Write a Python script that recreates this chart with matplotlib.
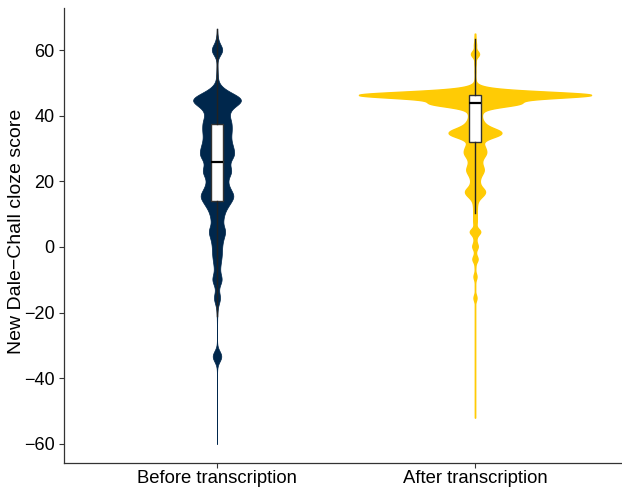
import numpy as np
import matplotlib
matplotlib.use("Agg")
import matplotlib.pyplot as plt

plt.rcParams["font.family"] = ["Liberation Sans", "DejaVu Sans"]

# Categories and colours
groups = ["Before transcription", "After transcription"]
colors = ["#00274C", "#FFCB05"]

# Score distribution before transcription (score value, number of texts)
before_scores = [66.5, 63, 60, 55, 52, 48.5, 46.5, 44.7, 42.8, 40.5, 38, 35.5, 33, 30.5,
                 28, 25.5, 23, 20.5, 18, 15.5, 13, 10.5, 8, 5, 2.5, 0, -2.5, -5, -7.5,
                 -10, -12.5, -15.5, -18, -20.5, -24, -28, -33.3, -38, -43, -48, -53,
                 -57, -60]
before_counts = [0.2, 1, 6.5, 0.5, 0.8, 3, 10, 20, 10, 9, 12, 12, 11, 13,
                 15, 9, 13, 8, 10, 15, 10, 6, 5, 8, 5, 4, 4, 3, 2,
                 5, 1, 3.5, 0.6, 0.3, 0.15, 0.15, 5.5, 0.15, 0.12, 0.12, 0.12,
                 0.12, 0.12]

# Score distribution after transcription (score value, number of texts)
after_scores = [65, 63.5, 61.5, 58.8, 56, 53.5, 51, 49.0, 48.3, 47.6, 46.9, 46.3, 45.7,
                44.9, 43.8, 42.9, 42.0, 41, 40, 39, 38, 37, 36, 35.2, 34.4, 33.5,
                32.5, 31.5, 30.5, 29.5, 28.5, 27.5, 26.5, 25.5, 24.5, 23.5, 22.5, 21.5,
                20.5, 19.5, 18.5, 17.5, 16.7, 15.8, 15, 14, 13, 12, 11, 10, 9, 8, 7,
                4.7, 3, 1.5, 0.1, -2, -3.7, -6, -9, -12, -15.5, -19, -24, -29, -34,
                -39, -44, -48, -52]
after_counts = [0.2, 0.4, 1, 4, 0.6, 0.4, 0.4, 1.5, 4, 8, 18, 85, 14,
                6, 35, 8, 4, 3, 3, 3, 4, 5, 8, 10, 12, 8,
                3.5, 3.5, 4.5, 5, 5.5, 4, 3, 3, 3.5, 4.5, 3.5, 2.5,
                2, 2, 2.5, 4, 4.5, 3.5, 2, 1.2, 0.9, 0.8, 0.8, 0.8, 0.8, 0.8, 0.9,
                5, 1, 0.7, 2.5, 0.5, 2.5, 0.3, 1.5, 0.2, 1.5, 0.1, 0.1, 0.1, 0.1,
                0.1, 0.1, 0.1, 0.1]

# Kernel bandwidths for each group
bandwidths = [1.6, 0.9]

# Box-and-whisker summaries: lower whisker, Q1, median, Q3, upper whisker
whisker_low = [-21, 10.5]
q1 = [14, 32]
median = [26, 44]
q3 = [37.5, 46.3]
whisker_high = [66.5, 63.5]

positions = [1, 2]
datasets = [(before_scores, before_counts), (after_scores, after_counts)]
outline_widths = [0.5, 1.0]


def kde(scores, counts, bw, grid):
    s = np.asarray(scores, float)[:, None]
    c = np.asarray(counts, float)[:, None]
    k = np.exp(-0.5 * ((grid[None, :] - s) / bw) ** 2)
    return (c * k).sum(axis=0) / (c.sum() * bw * np.sqrt(2 * np.pi))


curves = []
for (sc, ct), bw in zip(datasets, bandwidths):
    grid = np.linspace(min(sc), max(sc), 3000)
    curves.append((grid, kde(sc, ct, bw, grid)))
dmax = max(d.max() for _, d in curves)

fig = plt.figure(figsize=(6.22, 4.88), dpi=100)
ax = fig.add_axes([63.5 / 622, 25 / 488, (622 - 63.5) / 622, 455 / 488])

for (grid, dens), pos, col, lw in zip(curves, positions, colors, outline_widths):
    half = 0.45 * dens / dmax
    ax.fill_betweenx(grid, pos - half, pos + half, facecolor=col,
                     edgecolor=col, linewidth=lw, zorder=2)

stats = []
for i in range(2):
    stats.append({"med": median[i], "q1": q1[i], "q3": q3[i],
                  "whislo": whisker_low[i], "whishi": whisker_high[i],
                  "fliers": []})
ax.bxp(stats, positions=positions, widths=0.048, patch_artist=True,
       showcaps=False, showfliers=False,
       boxprops=dict(facecolor="white", edgecolor="#333333", linewidth=1.0),
       whiskerprops=dict(color="#222222", linewidth=1.0),
       medianprops=dict(color="black", linewidth=1.6),
       zorder=3)

ax.set_xlim(1 - (217 - 63.5) / 258, 1 + (622 - 217) / 258)
ax.set_ylim(-65.8, 72.8)
ax.set_xticks(positions)
ax.set_xticklabels(groups)
ax.set_yticks([-60, -40, -20, 0, 20, 40, 60])

for side in ["top", "right"]:
    ax.spines[side].set_visible(False)
for side in ["left", "bottom"]:
    ax.spines[side].set_color("#333333")
    ax.spines[side].set_linewidth(0.9)
ax.tick_params(axis="both", length=3.5, width=0.8, color="#333333",
               labelcolor="black")
ax.tick_params(axis="x", pad=1.5, labelsize=13.3)
ax.tick_params(axis="y", pad=3.0, labelsize=13)
ax.set_ylabel("New Dale\u2212Chall cloze score", fontsize=14)
ax.yaxis.set_label_coords(-0.069, 0.51)

fig.savefig("out.png", dpi=100)
